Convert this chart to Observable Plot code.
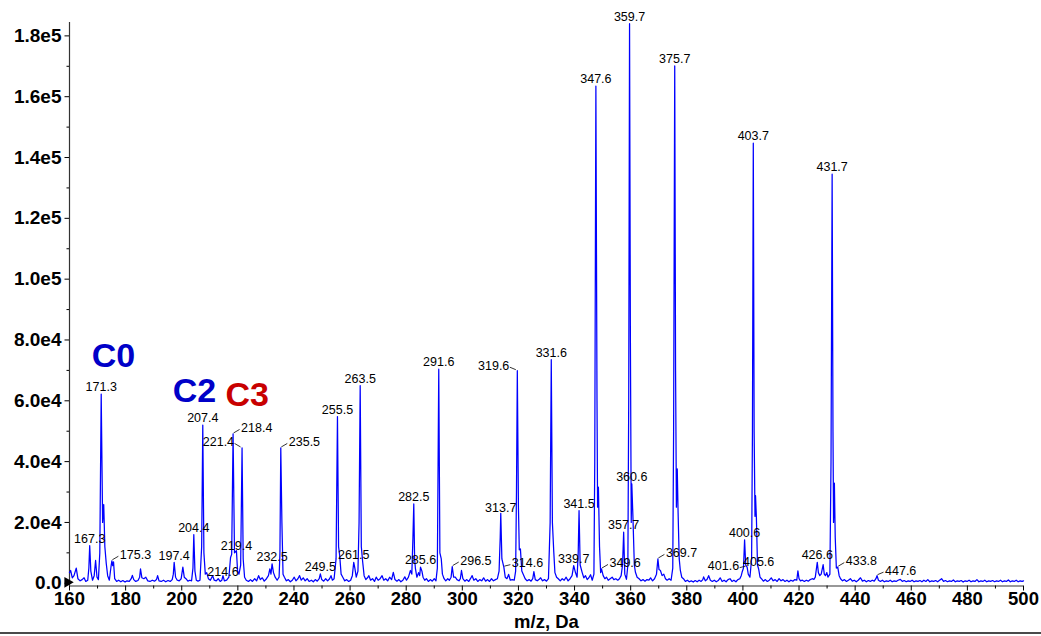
<!DOCTYPE html>
<html><head><meta charset="utf-8">
<script src="https://cdn.jsdelivr.net/npm/d3@7"></script>
<script src="https://cdn.jsdelivr.net/npm/@observablehq/plot@0.6"></script>
<style>
body{margin:0;background:#fff;}
#chart{position:relative;width:1041px;height:636px;overflow:hidden;background:#fff;}
#chart svg{display:block;}
#border{position:absolute;left:0;top:632px;width:1041px;height:2px;background:#4a4a4a;}
</style></head><body><div id="chart"></div>
<script>
// ---- DATA ----
// spectrum profile: [m/z (Da), intensity (thousands of counts)]
const spectrum = [
[160.0,3.5],[160.4,4.2],[161.0,1.8],[161.6,2.5],[162.4,5.0],[163.0,1.5],[163.8,0.8],[164.5,1.2],[165.2,1.8],[165.8,0.6],[166.5,1.0],[166.9,5.0],[167.2,12.4],[167.6,4.0],[168.2,1.0],[168.8,2.5],[169.3,7.5],[169.8,2.0],[170.3,1.2],[170.8,10.0],[171.3,62.2],[171.8,20],[172.2,25.9],[172.6,12],[173.1,6.5],[173.6,2.5],[174.2,1.0],[174.8,5.5],[175.1,7.4],[175.4,5.8],[175.7,7.0],[176.1,1.5],[176.8,0.6],[177.5,1.0],[178.3,0.5],[179.0,0.9],[179.8,0.4],
[180.5,0.8],[181.3,0.6],[182.0,1.5],[182.4,2.6],[182.9,1.2],[183.6,0.6],[184.4,0.9],[185.0,2.0],[185.3,4.7],[185.8,1.8],[186.5,1.5],[187.2,2.0],[187.9,0.8],[188.7,0.6],[189.5,1.0],[190.3,0.7],[191.0,1.2],[191.4,2.5],[191.9,0.8],[192.7,0.6],[193.5,1.0],[194.3,0.5],[195.1,0.9],[195.9,0.6],[196.6,1.2],[197.0,3.0],[197.3,6.9],[197.8,2.0],[198.4,1.0],[199.1,0.8],[199.8,1.5],
[200.4,5.3],[200.9,2.0],[201.5,1.5],[202.2,0.7],[202.9,1.0],[203.5,0.8],[204.0,5.0],[204.3,16.0],[204.7,4.0],[205.2,1.0],[205.8,0.7],[206.5,1.0],[207.1,12],[207.5,52.0],[207.9,10],[208.4,3.0],[208.9,3.5],[209.5,1.5],[210.2,1.0],[211.0,2.5],[211.6,1.0],[212.3,0.8],[213.0,1.5],[213.7,0.6],[214.3,1.0],[214.7,2.5],[215.2,0.8],[216.0,1.0],[216.8,2.0],[217.4,8.5],[217.8,9.5],[218.3,49.1],[218.8,10],[219.5,10.7],[219.9,4.0],
[220.4,3.0],[221.0,6.0],[221.5,44.5],[221.9,8],[222.4,2.0],[223.0,1.0],[223.8,0.6],[224.5,1.2],[225.2,0.6],[226.0,1.5],[226.7,0.8],[227.4,2.5],[228.0,1.2],[228.7,1.8],[229.4,0.7],[230.2,1.5],[230.9,2.5],[231.4,4.7],[231.8,3.0],[232.2,6.4],[232.7,3.5],[233.3,2.0],[234.0,1.0],[234.7,2.0],[235.0,10],[235.3,44.5],[235.7,20],[236.1,3.0],[236.6,2.0],[237.3,0.8],[238.0,1.2],[238.7,0.5],[239.4,1.0],
[240.1,2.0],[240.7,0.8],[241.4,1.5],[242.0,2.5],[242.6,1.0],[243.3,1.8],[244.0,0.8],[244.7,1.5],[245.4,0.6],[246.2,1.0],[246.9,0.5],[247.6,1.2],[248.3,0.7],[249.0,1.5],[249.4,3.1],[249.9,1.2],[250.6,0.7],[251.3,1.5],[252.0,0.8],[252.7,1.5],[253.2,2.5],[253.7,1.0],[254.3,1.5],[255.0,8],[255.5,54.8],[255.9,12],[256.3,9.1],[256.8,3.0],[257.4,2.0],[258.1,0.8],[258.8,1.2],[259.5,0.6],
[260.2,1.0],[260.8,2.5],[261.3,6.9],[261.7,5.0],[262.2,2.0],[262.8,4],[263.2,20],[263.6,65.0],[264.0,12],[264.5,6.9],[265.0,2.5],[265.6,1.2],[266.2,1.8],[266.7,2.5],[267.3,1.0],[268.0,1.5],[268.7,0.6],[269.3,2.0],[270.0,1.0],[270.7,1.5],[271.4,2.5],[272.0,1.0],[272.7,1.5],[273.4,0.8],[274.1,2.0],[274.8,1.2],[275.4,3.6],[276.0,1.2],[276.7,0.7],[277.4,1.2],[278.1,0.5],[278.8,1.0],[279.5,2.1],
[280.1,1.0],[280.8,2.0],[281.5,4.2],[282.0,3.0],[282.4,15],[282.7,26.1],[283.0,8],[283.3,4.7],[283.8,2.0],[284.4,3.5],[284.8,2.5],[285.1,5.3],[285.6,4.0],[286.0,2.0],[286.6,1.0],[287.2,1.5],[287.9,0.6],[288.6,1.2],[289.3,0.7],[290.0,1.5],[290.6,0.8],[291.1,5],[291.6,70.4],[292.0,10],[292.5,8.0],[292.9,3.0],[293.5,1.5],[294.1,0.8],[294.8,1.5],[295.4,1.0],[296.0,2.0],[296.4,5.5],[296.9,2.0],[297.5,2.0],[298.1,1.2],[298.8,0.8],[299.3,1.5],[299.7,4.2],
[300.2,1.5],[300.9,0.7],[301.6,1.2],[302.3,0.6],[302.9,1.5],[303.5,2.5],[304.1,1.0],[304.8,1.5],[305.5,0.6],[306.2,1.2],[306.9,0.8],[307.6,1.8],[308.3,0.7],[309.0,1.2],[309.7,0.6],[310.4,1.5],[311.1,0.8],[311.8,1.2],[312.5,1.5],[313.1,4],[313.5,15],[313.7,23.0],[314.1,8],[314.8,5.3],[315.3,2.0],[315.9,1.5],[316.5,2.9],[317.1,1.0],[317.8,1.2],[318.5,1.0],[319.0,4],[319.3,30],[319.6,69.9],[320.0,25],[320.3,11],[320.7,11.3],
[321.2,4.0],[321.7,3.0],[322.4,1.5],[323.1,0.8],[323.8,1.2],[324.5,0.7],[325.1,1.5],[325.5,3.8],[326.0,1.2],[326.7,0.8],[327.3,1.2],[327.9,1.8],[328.6,0.8],[329.3,1.2],[330.0,0.7],[330.7,1.5],[331.3,20],[331.7,73.5],[332.1,20],[332.6,10.2],[333.0,3.5],[333.6,2.0],[334.2,1.5],[334.9,0.8],[335.6,1.5],[336.3,1.0],[337.0,2.0],[337.7,0.8],[338.4,1.5],[339.1,2.5],[339.7,5.8],
[340.3,3.6],[340.9,2.0],[341.3,10],[341.6,23.9],[342.0,6],[342.7,3.6],[343.3,1.8],[343.9,2.5],[344.5,1.2],[345.1,1.8],[345.7,2.8],[346.3,1.0],[346.9,3],[347.2,40],[347.6,163.5],[348.0,60],[348.2,25],[348.5,31.6],[348.9,12],[349.3,3.5],[349.6,4.7],[350.2,2.5],[350.8,1.5],[351.4,2.0],[352.0,1.0],[352.7,1.5],[353.4,2.0],[354.0,1.2],[354.7,1.5],[355.4,1.0],[356.0,1.5],[356.6,2.5],[357.1,6],[357.5,16.8],[357.9,3],[358.5,1.3],[359.0,6],[359.3,60],[359.6,184.0],[359.9,80],
[360.2,20],[360.4,32.7],[360.8,22],[361.3,6],[361.7,3.6],[362.3,2.0],[363.0,1.5],[363.7,0.8],[364.4,1.2],[365.1,0.7],[365.8,1.2],[366.5,1.0],[367.1,1.8],[367.8,0.8],[368.5,1.5],[369.2,3],[369.7,8.0],[370.1,4.5],[370.6,4.2],[371.2,2.5],[371.8,3.0],[372.4,1.5],[373.0,1.0],[373.7,1.5],[374.4,1.0],[375.0,5],[375.3,50],[375.7,170.1],[376.0,70],[376.3,25],[376.6,37.6],[376.9,23.3],[377.3,8],[377.7,4.2],[378.2,2.0],[378.8,1.5],[379.5,0.6],
[380.2,1.0],[380.9,0.5],[381.6,0.8],[382.3,0.4],[383.0,0.9],[383.7,0.5],[384.4,1.0],[385.1,0.6],[385.7,1.2],[386.0,2.1],[386.6,0.8],[387.2,1.2],[387.8,2.5],[388.4,1.0],[389.1,0.6],[389.8,1.0],[390.5,0.5],[391.2,0.9],[391.9,1.8],[392.6,0.6],[393.3,1.0],[394.0,0.5],[394.7,1.2],[395.4,1.5],[396.1,0.6],[396.8,1.0],[397.5,0.5],[398.2,1.2],[398.9,1.5],[399.4,2.5],[399.7,3.6],
[400.2,5],[400.6,14.3],[401.0,6],[401.5,5.3],[401.9,3.0],[402.5,2.0],[403.1,8],[403.4,50],[403.7,144.7],[404.0,50],[404.3,22],[404.5,28.8],[404.8,21.7],[405.2,6],[405.6,4.7],[406.1,2.0],[406.6,1.5],[407.3,0.7],[408.0,1.2],[408.7,0.6],[409.4,1.0],[410.1,1.8],[410.8,0.8],[411.5,1.2],[412.2,0.6],[412.9,1.5],[413.6,0.8],[414.3,1.2],[415.0,0.6],[415.7,1.0],[416.4,0.5],[417.1,1.0],[417.8,0.7],[418.5,1.2],[419.2,1.0],[419.6,4.1],
[420.0,1.5],[420.5,0.8],[421.2,1.0],[421.9,0.6],[422.6,1.0],[423.3,0.7],[424.0,1.2],[424.7,1.5],[425.3,1.3],[425.8,2.0],[426.5,6.9],[426.9,3.5],[427.4,2.5],[427.9,3.0],[428.6,6.1],[429.0,3.0],[429.4,2.5],[429.9,3.5],[430.3,2.0],[431.0,3],[431.4,40],[431.8,134.5],[432.1,50],[432.3,20],[432.6,32.9],[432.9,15.1],[433.3,5],[433.8,5.3],[434.3,2.5],[434.8,1.5],[435.5,0.8],[436.2,1.2],[436.9,0.6],[437.6,1.0],[438.3,1.5],[439.0,0.7],[439.7,1.0],
[440.4,0.5],[441.1,1.0],[441.9,1.8],[442.6,0.7],[443.3,1.0],[444.0,0.5],[444.7,0.9],[445.4,0.6],[446.1,1.0],[446.8,0.7],[447.4,1.5],[447.8,2.5],[448.3,1.0],[449.0,0.6],[449.7,1.0],[450.4,0.5],[451.1,0.8],[451.8,0.6],[452.5,1.0],[453.2,0.5],[453.9,0.8],[454.6,0.6],[455.3,1.0],[456.1,1.3],[456.8,0.6],[457.5,0.9],[458.2,0.5],[458.9,0.8],[459.6,0.6],
[460.3,1.0],[461.0,0.5],[461.7,0.8],[462.4,0.6],[463.1,0.9],[463.8,0.5],[464.5,1.0],[465.2,0.6],[465.9,1.2],[466.6,0.5],[467.3,0.8],[468.0,0.6],[468.7,0.9],[469.4,0.5],[470.1,1.0],[470.8,1.5],[471.5,0.6],[472.2,0.9],[472.9,0.5],[473.6,0.8],[474.3,0.6],[475.0,1.1],[475.7,0.5],[476.4,0.8],[477.1,0.6],[477.8,0.9],[478.5,0.4],[479.2,0.8],[479.9,0.6],
[480.6,1.0],[481.3,0.5],[482.0,0.8],[482.7,0.6],[483.4,1.2],[484.1,0.5],[484.8,0.8],[485.5,0.6],[486.2,1.0],[486.9,0.5],[487.6,0.8],[488.3,0.6],[489.0,0.9],[489.7,0.5],[490.4,0.8],[491.1,0.6],[491.8,1.0],[492.5,0.5],[493.2,0.8],[493.9,0.6],[494.6,1.1],[495.3,0.5],[496.0,0.8],[496.7,0.6],[497.4,1.0],[498.1,0.5],[498.8,0.8],[499.5,0.6],[500.0,0.8]
];

// labelled peaks
const peakLabels = ["167.3","171.3","175.3","197.4","204.4","207.4","214.6","218.4","219.4","221.4","232.5","235.5","249.5","255.5","261.5","263.5","282.5","285.6","291.6","296.5","313.7","314.6","319.6","331.6","339.7","341.5","347.6","349.6","357.7","359.7","360.6","369.7","375.7","400.6","401.6","403.7","405.6","426.6","431.7","433.8","447.6"];
const peakMz     = [167.2,171.3,175.1,197.3,204.3,207.5,214.7,218.3,219.5,221.5,232.2,235.3,249.4,255.5,261.3,263.6,282.7,285.1,291.6,296.4,313.7,314.8,319.6,331.7,339.7,341.6,347.6,349.6,357.5,359.6,360.4,369.7,375.7,400.6,401.5,403.7,405.6,426.5,431.8,433.8,447.8];
const peakK      = [12.4,62.2,7.4,6.9,16.0,52.0,2.5,49.1,10.7,44.5,6.4,44.5,3.1,54.8,6.9,65.0,26.1,5.3,70.4,5.5,23.0,5.3,69.9,73.5,5.8,23.9,163.5,4.7,16.8,184.0,32.7,8.0,170.1,14.3,5.3,144.7,4.7,6.9,134.5,5.3,2.5];

// series annotations
const seriesNames = ["C0","C2","C3"];
const seriesMz    = [175.7,204.5,223.3];
const seriesK     = [74.6,63.3,62.0];

// axis ticks
const xMajor = d3.range(160, 501, 20);
const xMinor = d3.range(170, 500, 20);
const yMajor = d3.range(0, 180001, 20000);
const yMinor = d3.range(10000, 180000, 20000);

// ---- LAYOUT (label placement) ----
const leaderRight = new Set(["175.3","218.4","235.5","296.5","314.6","349.6","369.7","433.8","447.6"]);
const leaderLeft  = new Set(["221.4","319.6","401.6"]);
const labelDy = {"314.6": -4, "401.6": -1, "447.6": -5, "319.6": -5, "214.6": -4, "219.4": -5, "197.4": -6, "313.7": -5};

const peaks = peakLabels.map((label, i) => ({label, mz: peakMz[i], k: peakK[i]}));
const series = seriesNames.map((name, i) => ({name, mz: seriesMz[i], k: seriesK[i]}));
const profile = spectrum.map(([mz, k]) => ({mz, k}));
const side = d => leaderRight.has(d.label) ? "right" : leaderLeft.has(d.label) ? "left" : "above";
const dyOf = d => labelDy[d.label] ?? (side(d) === "above" ? -7 : -6);

const yFmt = d => d === 0 ? "0.0" : d3.format(".1e")(d).replace("+", "");
const Y = d => d.k * 1000;

function leaders(index, scales) {
  const g = d3.create("svg:g").attr("stroke", "#000").attr("stroke-width", 0.8).attr("fill", "none");
  for (const p of peaks) {
    const s = side(p);
    if (s === "above") continue;
    const ax = scales.x(p.mz), ay = scales.y(Y(p));
    const dir = s === "right" ? 1 : -1;
    const dy = dyOf(p);
    g.append("line")
      .attr("x1", ax + dir * 1).attr("y1", ay - 0.5)
      .attr("x2", ax + dir * 7).attr("y2", ay + dy + 2);
  }
  return g.node();
}

const textFont = {fontSize: 12.5, fontWeight: "normal", fill: "#000"};
const group = name => peaks.filter(d => side(d) === name);

const marks = [
  Plot.ruleX([160], {stroke: "#333", strokeWidth: 1.2}),
  Plot.ruleY([-900], {stroke: "#333", strokeWidth: 1.2}),
  Plot.axisY({ticks: yMajor, tickSize: 4.5, tickPadding: 3.5, tickFormat: yFmt, label: null, fontSize: 19, fontWeight: "bold"}),
  Plot.axisY({ticks: yMinor, tickSize: 2.5, tickFormat: () => "", label: null}),
  Plot.axisX({ticks: xMajor, tickSize: 5, tickPadding: 1, tickFormat: d => String(d), label: "m/z, Da", labelArrow: "none", labelAnchor: "center", labelOffset: 42, fontSize: 18.5, fontWeight: "bold"}),
  Plot.axisX({ticks: xMinor, tickSize: 3, tickFormat: () => "", label: null}),
  Plot.line(profile, {x: "mz", y: Y, stroke: "#0000ff", strokeWidth: 1.25}),
  Plot.dot([{mz: 160, k: 0}], {x: "mz", y: Y, symbol: "triangle", rotate: 90, r: 4, fill: "#000", stroke: null, dx: -2, dy: -1}),
  leaders
];
for (const g of ["above", "right", "left"]) {
  for (const dy of new Set(group(g).map(dyOf))) {
    marks.push(Plot.text(group(g).filter(d => dyOf(d) === dy), {
      x: "mz", y: Y, text: "label", dy,
      dx: g === "right" ? 8 : g === "left" ? -8 : 0,
      textAnchor: g === "right" ? "start" : g === "left" ? "end" : "middle",
      ...textFont
    }));
  }
}
marks.push(Plot.text(series, {x: "mz", y: Y, text: "name", fontSize: 34, fontWeight: "bold",
  fill: d => d.name === "C3" ? "#c80000" : "#0000c8"}));

const chart = Plot.plot({
  width: 1041, height: 636,
  marginLeft: 69, marginRight: 18, marginTop: 22, marginBottom: 50.5,
  style: {fontFamily: "Arial, 'Liberation Sans', sans-serif", fontSize: "18.5px", fontWeight: "bold", color: "#000", background: "#fff"},
  x: {domain: [160, 500], label: null},
  y: {domain: [-900, 184400], label: null},
  marks
});
const host = document.getElementById("chart");
host.appendChild(chart);
const border = document.createElement("div"); border.id = "border"; host.appendChild(border);
</script></body></html>
